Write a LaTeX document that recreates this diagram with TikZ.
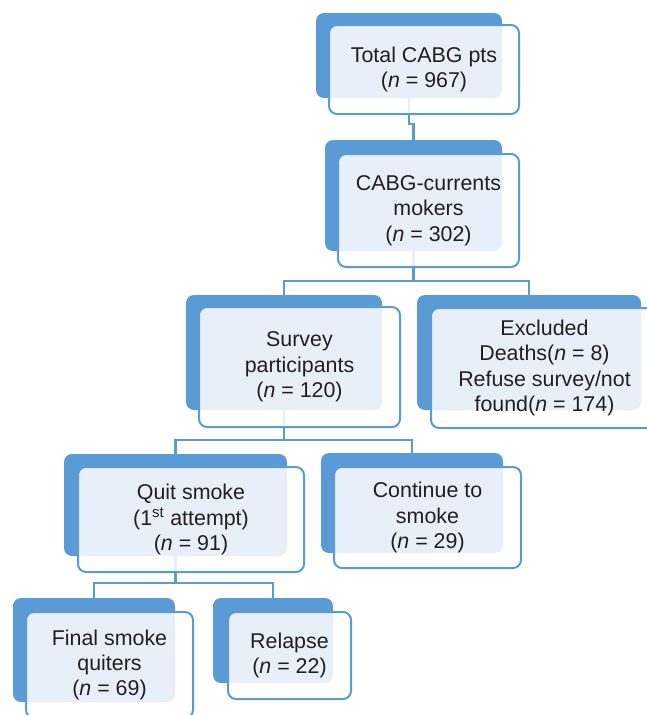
\documentclass[tikz,border=0pt]{standalone}
\usepackage{fontspec}
\setmainfont{Liberation Sans}
\definecolor{bb}{RGB}{91,155,213}
\definecolor{tx}{RGB}{35,31,32}
\tikzset{
  backbox/.style={fill=bb, draw=none, rounded corners=8pt, inner sep=0pt},
  frontbox/.style={draw=bb, line width=2pt, fill=white, fill opacity=0.86, text opacity=1,
    rounded corners=8pt, align=center, inner sep=0pt, text=tx,
    font=\fontsize{21.4}{25.3}\selectfont},
  conn/.style={draw=bb, line width=2.2pt}
}
\begin{document}
\begin{tikzpicture}[x=1pt,y=-1pt]
\useasboundingbox (0,0) rectangle (647,715);
\clip (0,0) rectangle (647,715);
% back boxes
\node[backbox, minimum width=186pt, minimum height=85pt]  (b1) at (409,55.5) {};
\node[backbox, minimum width=177pt, minimum height=111pt] (b2) at (413.5,195.5) {};
\node[backbox, minimum width=196pt, minimum height=115pt] (b3) at (284,352.5) {};
\node[backbox, minimum width=224pt, minimum height=115pt] (b4) at (529,352.5) {};
\node[backbox, minimum width=223pt, minimum height=102pt] (b5) at (175.5,505) {};
\node[backbox, minimum width=182pt, minimum height=100pt] (b6) at (412,503) {};
\node[backbox, minimum width=162pt, minimum height=104pt] (b7) at (94,650) {};
\node[backbox, minimum width=120pt, minimum height=85pt]  (b8) at (273,640.5) {};
% junction levels
\coordinate (j1) at (0,124);
\coordinate (j2) at (0,281);
\coordinate (j3) at (0,440);
\coordinate (j4) at (0,583);
% connectors
\draw[conn] (b1.south) -- (b1.south |- j1) -| (b2.north);
\draw[conn] (b2.south) -- (b2.south |- j2) -| (b3.north);
\draw[conn] (b2.south |- j2) -| (b4.north);
\draw[conn] (b3.south) -- (b3.south |- j3) -| (b5.north);
\draw[conn] (b3.south |- j3) -| (b6.north);
\draw[conn] (b5.south) -- (b5.south |- j4) -| (b7.north);
\draw[conn] (b5.south |- j4) -| (b8.north);
% front boxes
\node[frontbox, minimum width=190pt, minimum height=89pt]  (f1) at (424,69.5) {Total CABG pts\\(\textit{n} = 967)};
\node[frontbox, minimum width=181pt, minimum height=113pt] (f2) at (428.5,210.5) {CABG-currents\\mokers\\(\textit{n} = 302)};
\node[frontbox, minimum width=201pt, minimum height=120pt] (f3) at (299.5,367) {Survey\\participants\\(\textit{n} = 120)};
\node[frontbox, minimum width=227pt, minimum height=120pt] (f4) at (544.5,368) {Excluded\\Deaths(\textit{n} = 8)\\Refuse survey/not\\found(\textit{n} = 174)};
\node[frontbox, minimum width=226pt, minimum height=105pt] (f5) at (191,519.5) {Quit smoke\\(1\textsuperscript{st} attempt)\\(\textit{n} = 91)};
\node[frontbox, minimum width=187pt, minimum height=101pt] (f6) at (427.5,517.5) {Continue to\\smoke\\(\textit{n} = 29)};
\node[frontbox, minimum width=167pt, minimum height=106pt] (f7) at (109.5,665) {Final smoke\\quiters\\(\textit{n} = 69)};
\node[frontbox, minimum width=123pt, minimum height=87pt]  (f8) at (289.5,655.5) {Relapse\\(\textit{n} = 22)};
\end{tikzpicture}
\end{document}
